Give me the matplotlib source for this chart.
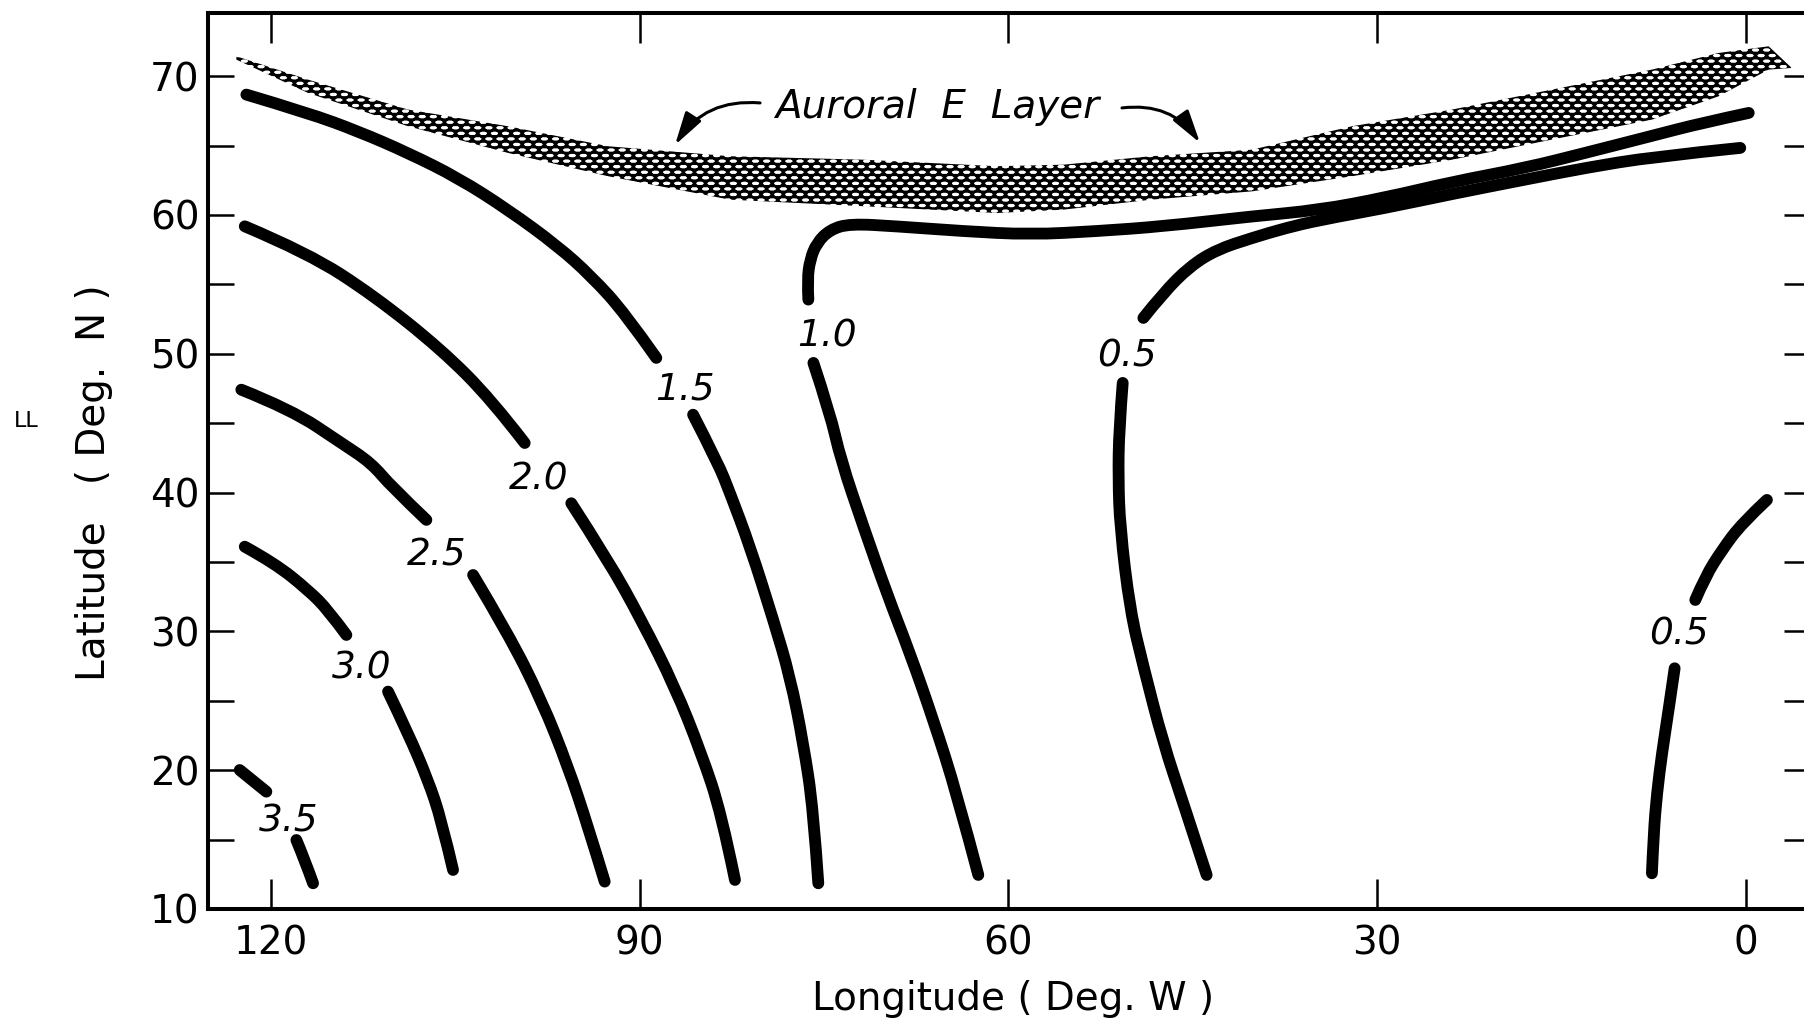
import matplotlib.pyplot as plt
from matplotlib.path import Path
from matplotlib.patches import PathPatch

plt.rcParams['font.family'] = ['DejaVu Sans']
plt.rcParams['hatch.color'] = 'black'
plt.rcParams['hatch.linewidth'] = 1.6

# isoline segments: longitude (deg W), latitude (deg N)
c35_a_lon = [122.55, 120.38]
c35_a_lat = [20.01, 18.45]
c35_b_lon = [117.94, 117.26, 116.58]
c35_b_lat = [14.97, 13.53, 11.85]

c30_a_lon = [122.14, 119.70, 116.99, 115.36, 113.87]
c30_a_lat = [36.10, 34.91, 32.98, 31.54, 29.74]
c30_b_lon = [110.48, 108.85, 107.23, 106.14, 105.19]
c30_b_lat = [25.66, 22.66, 19.29, 16.41, 12.81]

c25_a_lon = [122.42, 118.35, 114.28, 111.84, 110.21, 107.36]
c25_a_lat = [47.41, 45.97, 43.57, 42.13, 40.43, 38.03]
c25_b_lon = [103.56, 100.72, 98.00, 95.83, 94.21, 92.85]
c25_b_lat = [34.06, 29.86, 25.06, 20.25, 15.93, 11.97]

c20_a_lon = [122.14, 116.99, 111.56, 106.14, 102.07, 99.36]
c20_a_lat = [59.18, 57.26, 54.14, 50.30, 46.69, 43.57]
c20_b_lon = [95.57, 92.58, 89.87, 87.15, 84.99, 83.36, 82.25]
c20_b_lat = [39.23, 35.14, 30.82, 26.02, 21.22, 16.90, 12.09]

c15_a_lon = [122.01, 116.99, 112.92, 108.85, 104.78, 100.72, 96.65, 93.94, 91.22, 88.65]
c15_a_lat = [68.67, 67.35, 66.03, 64.47, 62.67, 60.38, 57.74, 55.58, 52.94, 49.70]
c15_b_lon = [85.66, 83.63, 82.65, 81.02, 79.13, 77.77, 76.69, 75.87, 75.47]
c15_b_lat = [45.61, 42.13, 39.95, 36.10, 30.82, 26.74, 21.94, 17.13, 11.85]

c10_a_lon = [76.28, 76.36, 76.14, 75.60, 74.52, 72.89, 69.09, 63.67, 58.24, 52.81,
             47.40, 40.18, 34.75, 29.33, 23.91, 17.94, 13.06, 7.63, 3.56, -0.24]
c10_a_lat = [53.90, 55.34, 56.78, 57.98, 58.94, 59.37, 59.18, 58.83, 58.58, 58.83,
             59.18, 59.90, 60.35, 61.25, 62.38, 63.39, 64.47, 65.70, 66.63, 67.35]
c10_b_lon = [75.87, 74.52, 73.64, 71.80, 69.90, 68.01, 66.11, 64.21, 62.45]
c10_b_lat = [49.34, 45.74, 42.35, 37.54, 32.74, 28.42, 23.62, 18.34, 12.45]

c05_a_lon = [49.02, 47.40, 45.23, 43.05, 40.18, 37.47, 34.75, 29.33, 23.91, 17.94,
             13.06, 7.63, 0.45]
c05_a_lat = [52.58, 54.38, 56.30, 57.50, 58.34, 59.05, 59.62, 60.50, 61.51, 62.55,
             63.39, 64.18, 64.83]
c05_b_lon = [50.70, 51.00, 51.06, 50.92, 50.11, 49.02, 47.40, 45.77, 43.87]
c05_b_lat = [47.90, 44.53, 41.00, 37.54, 31.54, 27.46, 21.94, 17.62, 12.45]
c05_c_lon = [-1.72, 0.31, 1.94, 3.30, 4.11]
c05_c_lat = [39.47, 37.79, 35.86, 33.94, 32.26]
c05_d_lon = [5.79, 6.28, 6.82, 7.23, 7.50, 7.64]
c05_d_lat = [27.34, 24.34, 21.22, 18.34, 15.45, 12.57]

segments = [
    (c35_a_lon, c35_a_lat), (c35_b_lon, c35_b_lat),
    (c30_a_lon, c30_a_lat), (c30_b_lon, c30_b_lat),
    (c25_a_lon, c25_a_lat), (c25_b_lon, c25_b_lat),
    (c20_a_lon, c20_a_lat), (c20_b_lon, c20_b_lat),
    (c15_a_lon, c15_a_lat), (c15_b_lon, c15_b_lat),
    (c10_a_lon, c10_a_lat), (c10_b_lon, c10_b_lat),
    (c05_a_lon, c05_a_lat), (c05_b_lon, c05_b_lat),
    (c05_c_lon, c05_c_lat), (c05_d_lon, c05_d_lat),
]

# isoline labels, placed at their baselines
label_text = ['3.5', '3.0', '2.5', '2.0', '1.5', '1.0', '0.5', '0.5']
label_lon = [118.56, 112.60, 106.55, 98.22, 86.34, 74.79, 50.33, 5.46]
label_lat = [15.57, 26.62, 34.78, 40.19, 46.69, 50.54, 49.10, 29.02]

# auroral E layer band outline (top edge west->east, then bottom edge east->west)
band_top_lon = [122.82, 116.99, 108.85, 100.72, 92.58, 82.65, 71.81, 60.95, 55.53,
                48.40, 40.18, 32.04, 23.91, 15.77, 7.63, 2.21, -1.86, -3.74]
band_top_lat = [71.43, 69.75, 67.59, 66.39, 64.95, 64.23, 63.98, 63.51, 63.62,
                64.23, 64.70, 66.39, 67.59, 69.03, 70.47, 71.67, 72.15, 70.59]
band_bot_lon = [-1.86, 2.21, 7.63, 15.77, 23.91, 32.04, 40.18, 48.40, 55.53,
                60.95, 71.81, 82.65, 92.58, 100.72, 108.85, 116.99, 122.82]
band_bot_lat = [70.47, 68.55, 66.87, 65.43, 63.98, 62.79, 61.70, 61.10, 60.38,
                60.14, 60.63, 61.10, 62.79, 64.47, 66.39, 68.79, 71.19]

xticks = [120, 90, 60, 30, 0]
yticks = [10, 20, 30, 40, 50, 60, 70]
yticks_minor = [15, 25, 35, 45, 55, 65]


def smooth_path(xs, ys):
    # quadratic spline through the midpoints, ends pinned to the first/last point
    pts = list(zip(xs, ys))
    if len(pts) < 3:
        return Path(pts)
    verts = [pts[0]]
    codes = [Path.MOVETO]
    for i in range(1, len(pts) - 2):
        mid = ((pts[i][0] + pts[i + 1][0]) / 2, (pts[i][1] + pts[i + 1][1]) / 2)
        verts += [pts[i], mid]
        codes += [Path.CURVE3, Path.CURVE3]
    verts += [pts[-2], pts[-1]]
    codes += [Path.CURVE3, Path.CURVE3]
    return Path(verts, codes)


fig = plt.figure(figsize=(18.04, 10.22), dpi=100)
ax = fig.add_axes([0.1153, 0.1106, 0.888, 0.8767])

ax.fill(band_top_lon + band_bot_lon, band_top_lat + band_bot_lat,
        facecolor='white', edgecolor='black', hatch='xxx---', linewidth=0)

for lon, lat in segments:
    ax.add_patch(PathPatch(smooth_path(lon, lat), facecolor='none',
                           edgecolor='black', lw=8.5,
                           capstyle='round', joinstyle='round'))

for txt, lo, la in zip(label_text, label_lon, label_lat):
    ax.text(lo, la, txt, style='italic', fontsize=27, ha='center', va='baseline')

ax.text(65.84, 66.99, 'Auroral  E  Layer', style='italic', fontsize=28,
        ha='center', va='baseline')
arrow = dict(arrowstyle='-|>,head_length=1.0,head_width=0.28', color='black',
             lw=2.2, mutation_scale=20, shrinkA=0, shrinkB=0)
ax.annotate('', xy=(87.13, 65.04), xytext=(80.21, 68.07),
            arrowprops=dict(arrow, connectionstyle='arc3,rad=0.3'))
ax.annotate('', xy=(44.41, 65.19), xytext=(50.76, 67.71),
            arrowprops=dict(arrow, connectionstyle='arc3,rad=-0.3'))

ax.set_xlim(125.13, -5.22)
ax.set_ylim(10, 74.55)
ax.set_xticks(xticks)
ax.set_xticklabels([str(t) for t in xticks])
ax.set_yticks(yticks)
ax.set_yticks(yticks_minor, minor=True)
ax.tick_params(axis='both', which='both', direction='in', top=True, right=True,
               labelsize=28, width=1.8, color='black')
ax.tick_params(axis='x', which='major', length=21.6, pad=11)
ax.tick_params(axis='y', which='both', length=18.7, pad=6)
for s in ax.spines.values():
    s.set_linewidth(2.9)

fig.text(1013 / 1804, 1 - 1010 / 1022, 'Longitude ( Deg. W )', fontsize=28,
         ha='center', va='baseline')
fig.text(94 / 1804, 1 - 483 / 1022, 'Latitude   ( Deg.  N )', fontsize=28,
         rotation=90, ha='center', va='center')
fig.text(26 / 1804, 1 - 421 / 1022, 'LL', fontsize=16, ha='center', va='center')

fig.savefig('out.png', dpi=100, facecolor='white')
